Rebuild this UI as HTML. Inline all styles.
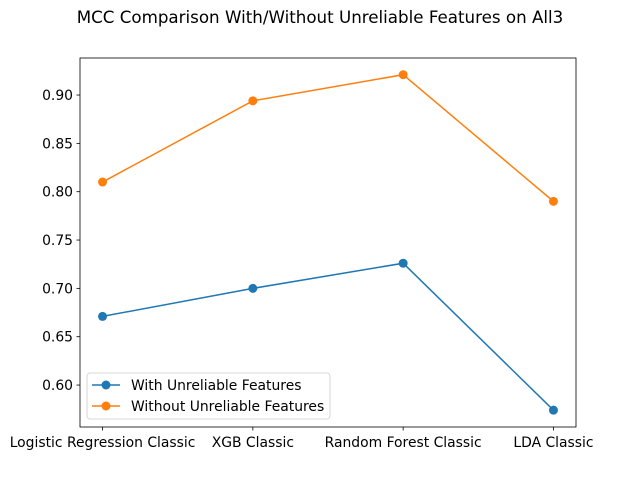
<!DOCTYPE html>
<html><head><meta charset="utf-8"><style>
body{margin:0;background:#fff;font-family:"Liberation Sans","DejaVu Sans",sans-serif}
text{font-family:"DejaVu Sans","Liberation Sans",sans-serif}
</style></head><body>
<svg id="chart" width="640" height="480" viewBox="0 0 640 480">
<rect width="640" height="480" fill="#fff"/>
<text x="320" y="23" text-anchor="middle" font-size="16.7">MCC Comparison With/Without Unreliable Features on All3</text>
<g id="plot"></g>
</svg>
<script>
const categories=["Logistic Regression Classic","XGB Classic","Random Forest Classic","LDA Classic"];
const withVals=[0.671,0.700,0.726,0.574];
const withoutVals=[0.810,0.894,0.921,0.790];
const yTicks=[0.60,0.65,0.70,0.75,0.80,0.85,0.90];
const seriesNames=["With Unreliable Features","Without Unreliable Features"];
const NS="http://www.w3.org/2000/svg";
const L=80,R=576,T=58,B=427,ymin=0.5566,ymax=0.9383;
const xs=i=>L+(i+0.15)*(R-L)/3.3;
const ys=v=>B-(v-ymin)/(ymax-ymin)*(B-T);
const g=document.getElementById('plot');
function mk(t,a,p){const e=document.createElementNS(NS,t);for(const k in a)e.setAttribute(k,a[k]);(p||g).appendChild(e);return e;}
const frame=mk('rect',{x:L,y:T,width:R-L,height:B-T,fill:'none',stroke:'#000','stroke-width':0.8});


yTicks.forEach(v=>{const y=ys(v);
 const tk=mk('line',{x1:L-3.5,x2:L,y1:y,y2:y,stroke:'#000','stroke-width':0.8});
 
 
 const t=mk('text',{x:L-7,y:y+5,'text-anchor':'end','font-size':13.9});t.textContent=v.toFixed(2);
 
 
});
categories.forEach((c,i)=>{const x=xs(i);
 const tk=mk('line',{x1:x,x2:x,y1:B,y2:B+3.5,stroke:'#000','stroke-width':0.8});
 
 
 const t=mk('text',{x:x,y:B+20,'text-anchor':'middle','font-size':13.9});t.textContent=c;
 
 
});
function series(vals,col,name){
 const pl=mk('polyline',{points:vals.map((v,i)=>xs(i)+','+ys(v)).join(' '),fill:'none',stroke:col,'stroke-width':1.5});
 
 
 vals.forEach((v,i)=>{const c=mk('circle',{cx:xs(i),cy:ys(v),r:4.5,fill:col});
  
  });
}
series(withVals,'#1f77b4','with-unreliable');
series(withoutVals,'#ff7f0e','without-unreliable');
const lg=mk('g',{});


mk('rect',{x:87,y:373,width:243,height:46,rx:3,fill:'#fff','fill-opacity':0.8,stroke:'#ccc','stroke-width':0.8},lg);
[['#1f77b4',0],['#ff7f0e',1]].forEach(([col,i])=>{const y=385+i*21;
 mk('line',{x1:92,x2:120,y1:y,y2:y,stroke:col,'stroke-width':1.5},lg);
 mk('circle',{cx:106,cy:y,r:4.5,fill:col},lg);
 const t=mk('text',{x:131,y:y+5,'font-size':13.9},lg);t.textContent=seriesNames[i];
 
 
});
</script>
</body></html>
